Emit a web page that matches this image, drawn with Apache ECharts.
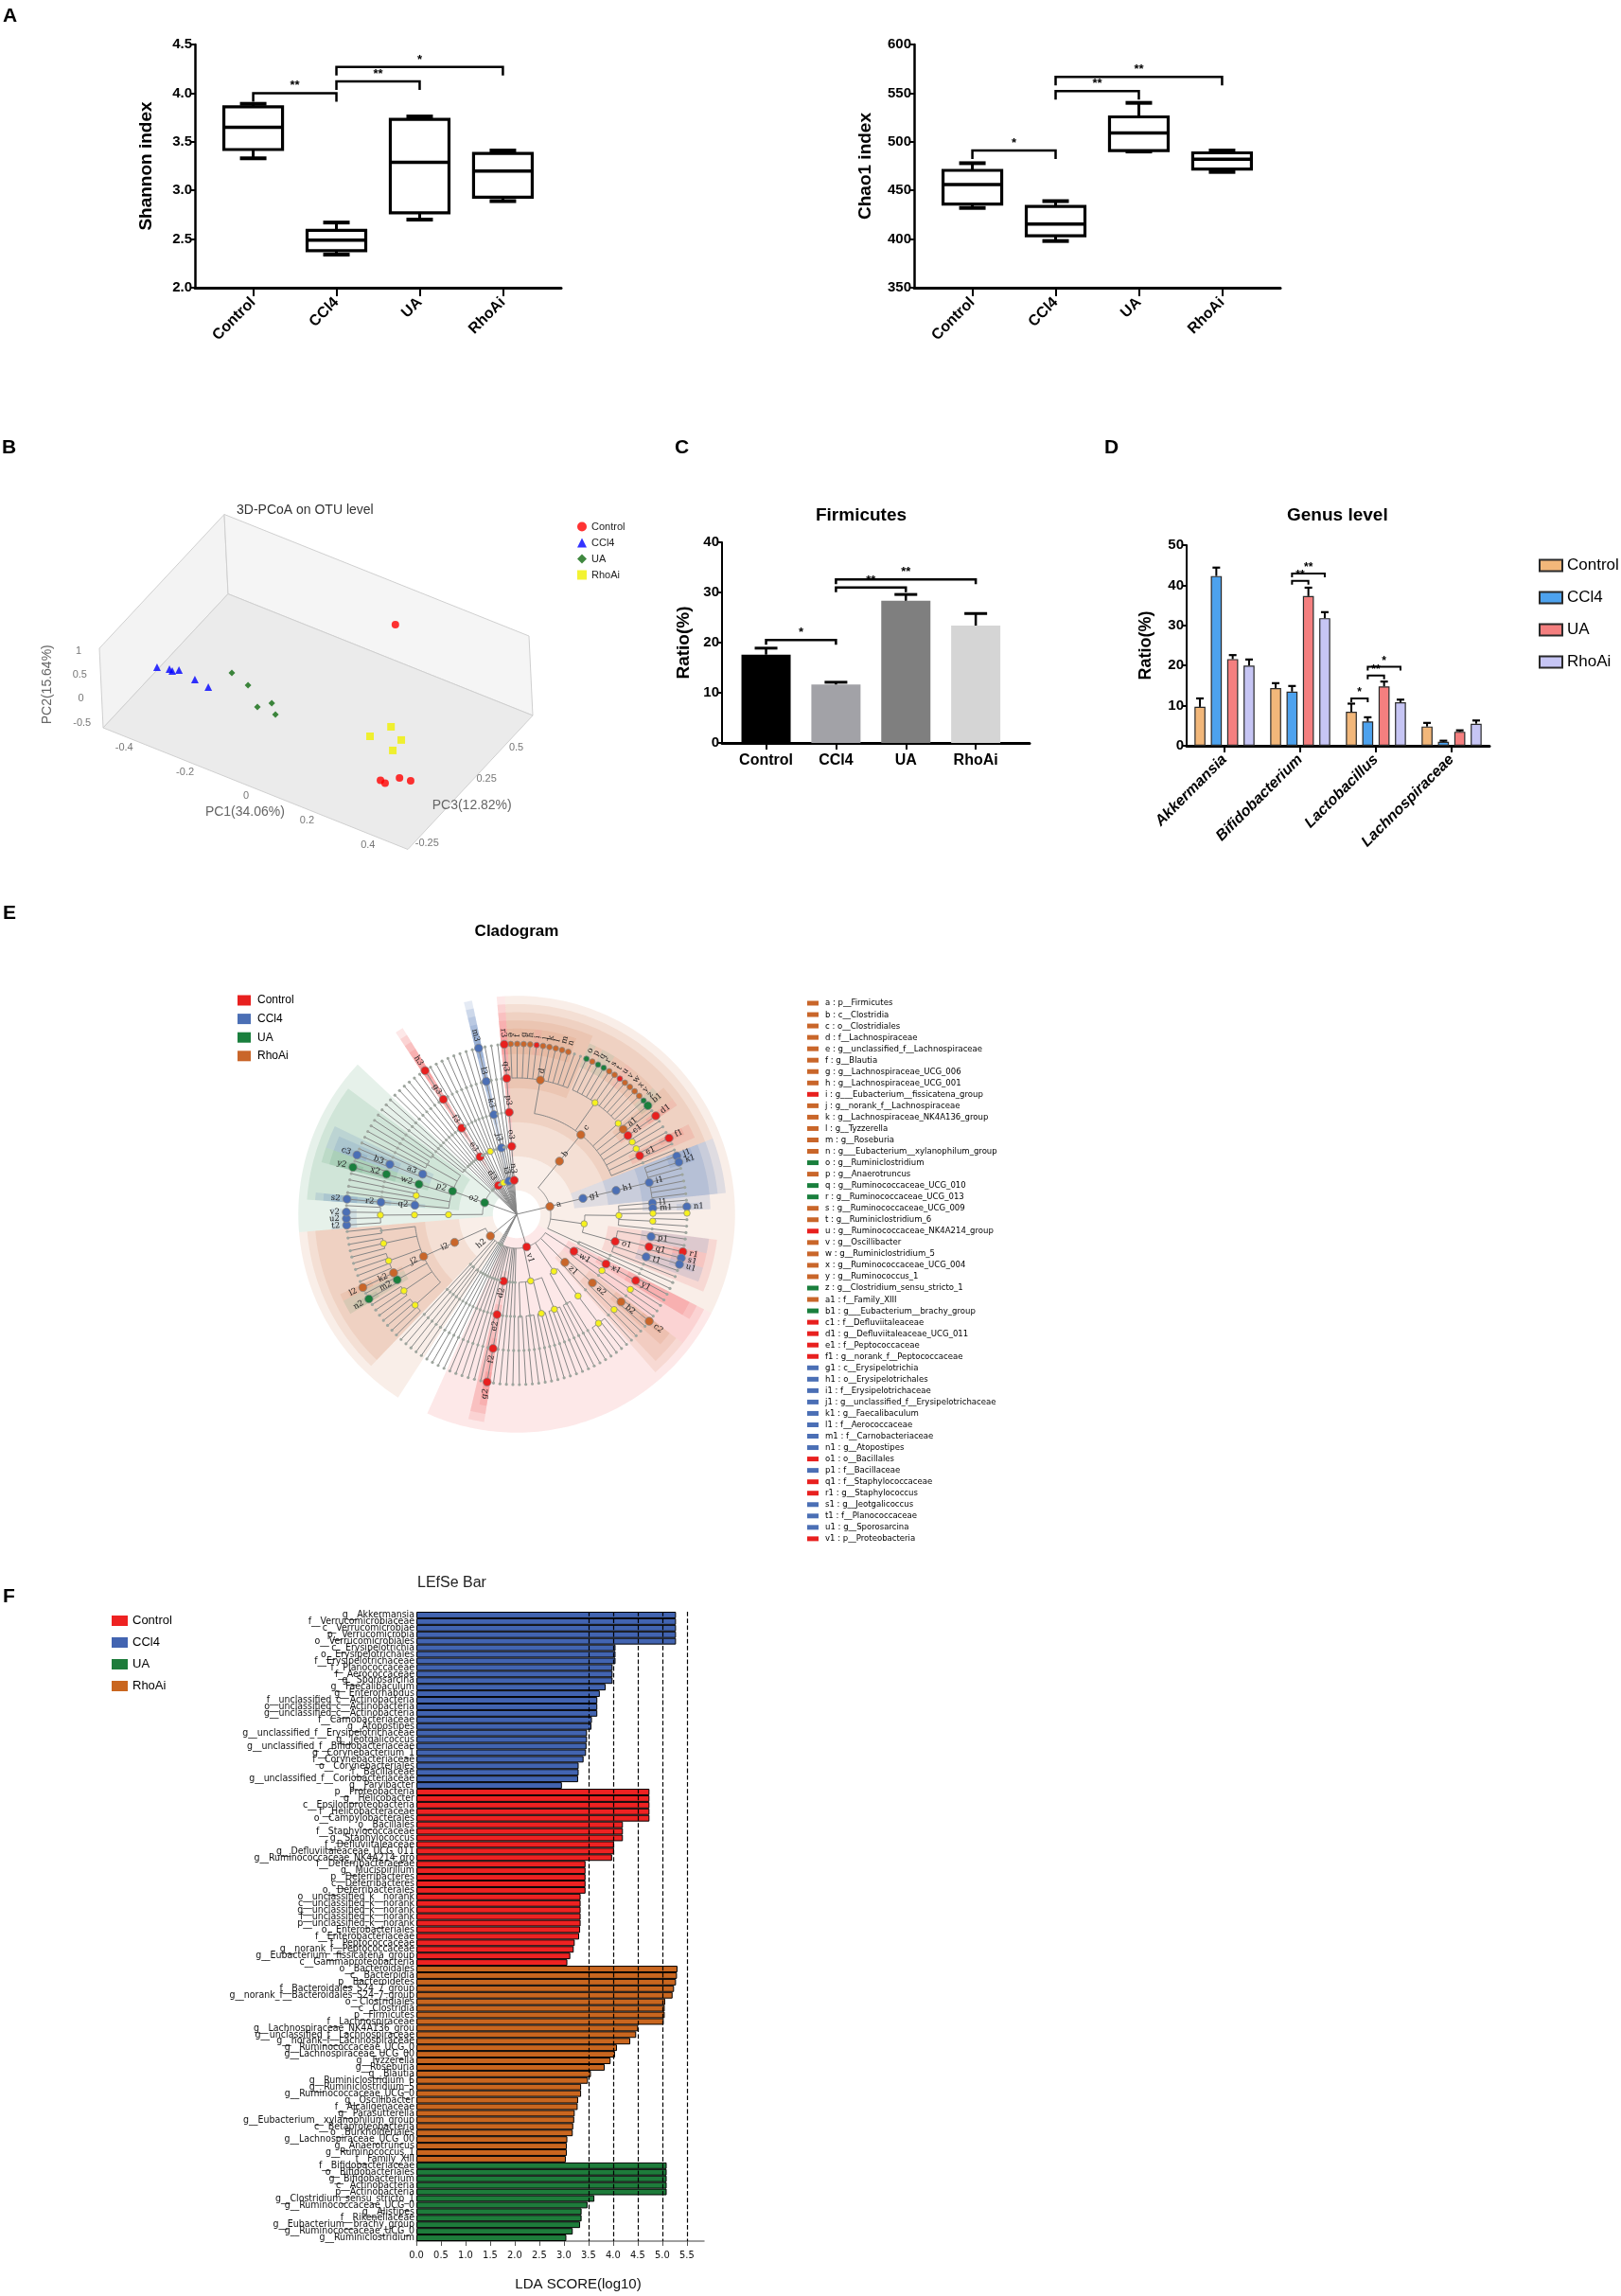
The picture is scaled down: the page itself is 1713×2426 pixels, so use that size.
<!DOCTYPE html>
<html>
<head>
<meta charset="utf-8">
<title>Gut microbiota panels</title>
<script src="https://cdn.jsdelivr.net/npm/echarts@6.0.0/dist/echarts.min.js"></script>
<style>
  html, body { margin: 0; padding: 0; background: #fff; }
  #page { position: relative; width: 1713px; height: 2426px; overflow: hidden; }
  .chart { position: absolute; }
  .tag { position: absolute; font: bold 21px 'Liberation Sans', Arial, sans-serif; color: #000; }
</style>
</head>
<body>
<div id="page">
  <div id="chartShannon" class="chart" style="left:0;top:0;width:640px;height:430px"></div>
  <div id="chartChao" class="chart" style="left:700px;top:0;width:700px;height:430px"></div>
  <div id="chartPcoa" class="chart" style="left:0;top:440px;width:700px;height:520px"></div>
  <div id="chartFirm" class="chart" style="left:700px;top:440px;width:420px;height:480px"></div>
  <div id="chartGenus" class="chart" style="left:1120px;top:440px;width:593px;height:520px"></div>
  <div id="chartClado" class="chart" style="left:0;top:960px;width:1100px;height:690px"></div>
  <div id="chartLefse" class="chart" style="left:0;top:1650px;width:900px;height:776px"></div>
  <div class="tag" style="left:3px;top:4px">A</div>
  <div class="tag" style="left:2px;top:460px">B</div>
  <div class="tag" style="left:713px;top:460px">C</div>
  <div class="tag" style="left:1167px;top:460px">D</div>
  <div class="tag" style="left:3px;top:952px">E</div>
  <div class="tag" style="left:3px;top:1674px">F</div>
</div>
<script>
const groups = ['Control', 'CCl4', 'UA', 'RhoAi']
const sans = "'Liberation Sans', Arial, sans-serif"
const narrow = "'Liberation Sans Narrow', 'DejaVu Sans Condensed', sans-serif"

// A: alpha diversity boxes, [min, Q1, median, Q3, max]
const shannonBox = [
  [3.33, 3.42, 3.65, 3.86, 3.89],
  [2.34, 2.38, 2.49, 2.59, 2.67],
  [2.70, 2.77, 3.29, 3.73, 3.76],
  [2.89, 2.93, 3.20, 3.38, 3.41]
]
const shannonSig = [[0, 1, 4.0, '**'], [1, 2, 4.12, '**'], [1, 3, 4.27, '*']]
const chaoBox = [
  [432, 436, 456, 470.6, 478],
  [398, 403.4, 415.5, 433.5, 439],
  [490, 491, 509, 525.6, 540],
  [469, 472, 482, 488.6, 491]
]
const chaoSig = [[0, 1, 491, '*'], [1, 2, 552, '**'], [1, 3, 566.6, '**']]

// B: 3D PCoA, [PC1, PC2, PC3]
const pcoaControl = [[0.062, 0.225, 0.733], [0.319, -0.26, -0.06], [0.334, -0.28, -0.06], [0.358, -0.27, 0.0], [0.391, -0.27, 0.009]]
const pcoaCCl4 = [[-0.382, 0.5, -0.128], [-0.348, 0.5, -0.111], [-0.337, 0.5, -0.115], [-0.323, 0.5, -0.095], [-0.264, 0.5, -0.112], [-0.215, 0.5, -0.125]]
const pcoaUA = [[-0.213, 0.3, 0.064], [-0.147, 0.3, 0.031], [-0.076, 0.3, -0.072], [-0.05, 0.3, -0.018], [-0.016, 0.3, -0.074]]
const pcoaRhoAi = [[0.254, 0, 0.2], [0.225, 0, 0.098], [0.308, 0, 0.148], [0.311, 0, 0.069]]
const pc1Range = [-0.5, 0.5]
const pc2Range = [-0.6, 1.05]
const pc3Range = [-0.3, 0.75]
const pc1Ticks = [-0.4, -0.2, 0, 0.2, 0.4]
const pc2Ticks = [-0.5, 0, 0.5, 1]
const pc3Ticks = [-0.25, 0.25, 0.5]

// C: Firmicutes
const firmMean = [17.6, 11.65, 28.35, 23.4]
const firmErr = [1.3, 0.45, 1.25, 2.4]
const firmSig = [[0, 1, 20.5, '*'], [1, 2, 31.0, '**'], [1, 3, 32.6, '**']]

// D: genus level
const genera = ['Akkermansia', 'Bifidobacterium', 'Lactobacillus', 'Lachnospiraceae']
const genusControl = [9.7, 14.4, 8.5, 4.8]
const genusControlErr = [2.1, 1.2, 2.0, 0.9]
const genusCCl4 = [42.3, 13.5, 6.05, 1.0]
const genusCCl4Err = [2.1, 1.4, 1.05, 0.26]
const genusUA = [21.6, 37.3, 14.8, 3.5]
const genusUAErr = [1.0, 2.1, 1.2, 0.35]
const genusRhoAi = [20.0, 31.8, 10.85, 5.5]
const genusRhoAiErr = [1.5, 1.5, 0.65, 0.8]
const genusSig = [[1, 1, 2, 41.1, '**'], [1, 1, 3, 42.9, '**'], [2, 0, 1, 11.8, '*'], [2, 1, 2, 17.5, '**'], [2, 1, 3, 19.7, '*']]

// E: cladogram, node = [letter, group, children]; a number stands for unnamed lineages
const cladeTree = [
  ['a', 'R', [
    ['b', 'R', [
      ['c', 'R', [
        ['d', 'R', [['e', 'R'], ['f', 'R'], ['g', 'R'], ['h', 'R'], ['i', 'C'], ['j', 'R'], ['k', 'R'], ['l', 'R'], ['m', 'R'], ['n', 'R'], 2]],
        ['', 'y', [['o', 'U'], ['p', 'R'], ['q', 'U'], ['r', 'U'], ['s', 'R'], ['t', 'R'], ['u', 'C'], ['v', 'R'], ['w', 'R'], ['x', 'R'], ['y', 'R']]],
        ['', 'y', [['z', 'U']]],
        ['a1', 'R', [['b1', 'U'], 1]],
        ['c1', 'C', [['d1', 'C']]],
        ['', 'y', [2]],
        ['', 'y', [1]],
        ['e1', 'C', [['f1', 'C'], 1]],
        ['', '', [1]]
      ]]
    ]],
    ['g1', 'L', [['h1', 'L', [['i1', 'L', [['j1', 'L'], ['k1', 'L'], 5]]]]]],
    ['', 'y', [
      ['', 'y', [['l1', 'L', [1]], ['m1', 'L', [['n1', 'L']]], ['', 'y', [['', 'y']]], ['', 'y', [2]], ['', '', [1]]]],
      ['o1', 'C', [['p1', 'L', [2]], ['q1', 'C', [['r1', 'C'], ['s1', 'L']]], ['t1', 'L', [['u1', 'L'], 1]], ['', '', [1]]]]
    ]],
    ['', '', [2]]
  ]],
  ['v1', 'C', [
    ['w1', 'C', [['x1', 'C', [['y1', 'C', [2]]]], ['', 'y', [['', 'y', [2]]]], ['', '', [1]]]],
    ['z1', 'R', [['a2', 'R', [['b2', 'R', [['c2', 'R'], 1]], ['', 'y', [2]]]], ['', '', [1]]]],
    ['', 'y', [['', 'y', [['', 'y', [4]]]], ['', '', [3]]]],
    ['', 'y', [['', 'y', [4]], ['', 'y', [3]], ['', '', [3]], ['', '', [2]]]],
    4,
    ['d2', 'C', [['e2', 'C', [['f2', 'C', [['g2', 'C']]], ['', '', [1]]]]]],
    5
  ]],
  4,
  ['h2', 'R', [
    ['', '', [2]], ['', '', [2]], ['', '', [1]],
    ['i2', 'R', [['j2', 'R', [
      ['', 'y', [4]], ['', 'y', [3]], ['m2', 'U', [['n2', 'U'], 1]], ['k2', 'R', [['l2', 'R']]], ['', 'y', [4]], ['', 'y', [3]], ['', '', [2]]
    ]]]]
  ]],
  ['o2', 'U', [
    ['', 'y', [['', 'y', [['', 'y', [['t2', 'L'], ['u2', 'L'], ['v2', 'L'], 1]]]]]],
    ['p2', 'U', [
      ['q2', 'L', [['r2', 'L', [['s2', 'L']]]]],
      ['', 'y', [4]],
      ['w2', 'U', [['x2', 'U', [['y2', 'U'], 1]]]],
      ['a3', 'L', [['b3', 'L', [['c3', 'L'], 1]], ['', '', [1]]]],
      ['', '', [3]],
      ['', '', [2]]
    ]],
    ['', '', [3]]
  ]],
  2,
  ['', '', [2]],
  2,
  ['d3', 'C', [['e3', 'C', [['f3', 'C', [['g3', 'C', [['h3', 'C']]]]]]]]],
  3,
  ['', 'y', [['', 'y', [2]]]],
  3,
  ['i3', 'L', [['j3', 'L', [['k3', 'L', [['l3', 'L', [['m3', 'L']]]]]]]]],
  3,
  ['n3', 'C', [['o3', 'C', [['p3', 'C', [['q3', 'C', [['r3', 'C']]]]]]]]]
]
const cladeKeyText = [
  'a : p__Firmicutes', 'b : c__Clostridia', 'c : o__Clostridiales', 'd : f__Lachnospiraceae',
  'e : g__unclassified_f__Lachnospiraceae', 'f : g__Blautia', 'g : g__Lachnospiraceae_UCG_006',
  'h : g__Lachnospiraceae_UCG_001', 'i : g___Eubacterium__fissicatena_group', 'j : g__norank_f__Lachnospiraceae',
  'k : g__Lachnospiraceae_NK4A136_group', 'l : g__Tyzzerella', 'm : g__Roseburia',
  'n : g___Eubacterium__xylanophilum_group', 'o : g__Ruminiclostridium', 'p : g__Anaerotruncus',
  'q : g__Ruminococcaceae_UCG_010', 'r : g__Ruminococcaceae_UCG_013', 's : g__Ruminococcaceae_UCG_009',
  't : g__Ruminiclostridium_6', 'u : g__Ruminococcaceae_NK4A214_group', 'v : g__Oscillibacter',
  'w : g__Ruminiclostridium_5', 'x : g__Ruminococcaceae_UCG_004', 'y : g__Ruminococcus_1',
  'z : g__Clostridium_sensu_stricto_1', 'a1 : f__Family_XIII', 'b1 : g___Eubacterium__brachy_group',
  'c1 : f__Defluviitaleaceae', 'd1 : g__Defluviitaleaceae_UCG_011', 'e1 : f__Peptococcaceae',
  'f1 : g__norank_f__Peptococcaceae', 'g1 : c__Erysipelotrichia', 'h1 : o__Erysipelotrichales',
  'i1 : f__Erysipelotrichaceae', 'j1 : g__unclassified_f__Erysipelotrichaceae', 'k1 : g__Faecalibaculum',
  'l1 : f__Aerococcaceae', 'm1 : f__Carnobacteriaceae', 'n1 : g__Atopostipes', 'o1 : o__Bacillales',
  'p1 : f__Bacillaceae', 'q1 : f__Staphylococcaceae', 'r1 : g__Staphylococcus', 's1 : g__Jeotgalicoccus',
  't1 : f__Planococcaceae', 'u1 : g__Sporosarcina', 'v1 : p__Proteobacteria'
]
const cladeKeyGroup = [
  'R', 'R', 'R', 'R', 'R', 'R', 'R', 'R', 'C', 'R', 'R', 'R', 'R', 'R', 'U', 'R', 'U', 'U', 'R', 'R', 'C', 'R', 'R', 'R', 'R',
  'U', 'R', 'U', 'C', 'C', 'C', 'C', 'L', 'L', 'L', 'L', 'L', 'L', 'L', 'L', 'C', 'L', 'C', 'C', 'L', 'L', 'L', 'C'
]

// F: LEfSe LDA scores
const lefseCCl4Labels = ['g__Akkermansia', 'f__Verrucomicrobiaceae', 'c__Verrucomicrobiae', 'p__Verrucomicrobia', 'o__Verrucomicrobiales', 'c__Erysipelotrichia', 'o__Erysipelotrichales', 'f__Erysipelotrichaceae', 'f__Planococcaceae', 'f__Aerococcaceae', 'g__Sporosarcina', 'g__Faecalibaculum', 'g__Enterorhabdus', 'f__unclassified_c__Actinobacteria', 'o__unclassified_c__Actinobacteria', 'g__unclassified_c__Actinobacteria', 'f__Carnobacteriaceae', 'g__Atopostipes', 'g__unclassified_f__Erysipelotrichaceae', 'g__Jeotgalicoccus', 'g__unclassified_f__Bifidobacteriaceae', 'g__Corynebacterium_1', 'f__Corynebacteriaceae', 'o__Corynebacteriales', 'f__Bacillaceae', 'g__unclassified_f__Coriobacteriaceae', 'g__Parvibacter']
const lefseCCl4Scores = [5.28, 5.28, 5.28, 5.28, 5.28, 4.05, 4.05, 4.05, 3.99, 3.99, 3.99, 3.85, 3.73, 3.68, 3.68, 3.68, 3.57, 3.56, 3.47, 3.47, 3.46, 3.45, 3.40, 3.30, 3.30, 3.29, 2.96]
const lefseControlLabels = ['p__Proteobacteria', 'g__Helicobacter', 'c__Epsilonproteobacteria', 'f__Helicobacteraceae', 'o__Campylobacterales', 'o__Bacillales', 'f__Staphylococcaceae', 'g__Staphylococcus', 'f__Defluviitaleaceae', 'g__Defluviitaleaceae_UCG_011', 'g__Ruminococcaceae_NK4A214_gro', 'f__Deferribacteraceae', 'g__Mucispirillum', 'p__Deferribacteres', 'c__Deferribacteres', 'o__Deferribacterales', 'o__unclassified_k__norank', 'c__unclassified_k__norank', 'g__unclassified_k__norank', 'f__unclassified_k__norank', 'p__unclassified_k__norank', 'o__Enterobacteriales', 'f__Enterobacteriaceae', 'f__Peptococcaceae', 'g__norank_f__Peptococcaceae', 'g__Eubacterium__fissicatena_group', 'c__Gammaproteobacteria']
const lefseControlScores = [4.74, 4.74, 4.74, 4.74, 4.74, 4.20, 4.20, 4.20, 4.02, 4.02, 3.98, 3.44, 3.44, 3.44, 3.44, 3.44, 3.34, 3.34, 3.34, 3.34, 3.34, 3.33, 3.31, 3.22, 3.20, 3.13, 3.07]
const lefseRhoAiLabels = ['o__Bacteroidales', 'c__Bacteroidia', 'p__Bacteroidetes', 'f__Bacteroidales_S24_7_group', 'g__norank_f__Bacteroidales_S24_7_group', 'o__Clostridiales', 'c__Clostridia', 'p__Firmicutes', 'f__Lachnospiraceae', 'g__Lachnospiraceae_NK4A136_grou', 'g__unclassified_f__Lachnospiraceae', 'g__norank_f__Lachnospiraceae', 'g__Ruminococcaceae_UCG_0', 'g__Lachnospiraceae_UCG_00', 'g__Tyzzerella', 'g__Roseburia', 'g__Blautia', 'g__Ruminiclostridium_6', 'g__Ruminiclostridium_5', 'g__Ruminococcaceae_UCG_0', 'g__Oscillibacter', 'f__Alcaligenaceae', 'g__Parasutterella', 'g__Eubacterium__xylanophilum_group', 'c__Betaproteobacteria', 'o__Burkholderiales', 'g__Lachnospiraceae_UCG_00', 'g__Anaerotruncus', 'g__Ruminococcus_1', 'f__Family_XIII']
const lefseRhoAiScores = [5.31, 5.30, 5.28, 5.24, 5.21, 5.06, 5.05, 5.05, 5.03, 4.51, 4.47, 4.35, 4.08, 4.04, 3.95, 3.83, 3.55, 3.49, 3.35, 3.35, 3.29, 3.28, 3.22, 3.21, 3.19, 3.18, 3.07, 3.06, 3.06, 3.04]
const lefseUALabels = ['f__Bifidobacteriaceae', 'o__Bifidobacteriales', 'g__Bifidobacterium', 'c__Actinobacteria', 'p__Actinobacteria', 'g__Clostridium_sensu_stricto_1', 'g__Ruminococcaceae_UCG_0', 'g__Alistipes', 'f__Rikenellaceae', 'g__Eubacterium__brachy_group', 'g__Ruminococcaceae_UCG_0', 'g__Ruminiclostridium']
const lefseUAScores = [5.09, 5.09, 5.09, 5.09, 5.09, 3.62, 3.48, 3.36, 3.36, 3.33, 3.18, 3.05]
const ldaTicks = [0, 0.5, 1, 1.5, 2, 2.5, 3, 3.5, 4, 4.5, 5, 5.5]
const ldaDashed = [3.5, 4, 4.5, 5, 5.5]

const codeColor = { C: '#e8201f', L: '#4b6fb5', U: '#1a7f3d', R: '#c9662a' }
const groupCode = { Control: 'C', CCl4: 'L', UA: 'U', RhoAi: 'R' }

function ln(x1, y1, x2, y2, w, color) {
  return { type: 'line', shape: { x1, y1, x2, y2 }, style: { stroke: color || '#000', lineWidth: w } }
}
function txt(x, y, text, font, align, valign, extra) {
  return Object.assign({
    type: 'text', x, y,
    style: { text, font, fill: '#000', align, textAlign: align, verticalAlign: valign, textVerticalAlign: valign }
  }, extra || {})
}

// bracket with stars, [i, j, y, label]
function bracketRender(sig, drop, lw, font) {
  return function (params, api) {
    const s = sig[params.dataIndex]
    const pa = api.coord([s[0], s[2]])
    const pb = api.coord([s[1], s[2]])
    const y = pa[1]
    return {
      type: 'group', children: [
        { type: 'polyline', shape: { points: [[pa[0], y + drop], [pa[0], y], [pb[0], y], [pb[0], y + drop]] }, style: { stroke: '#000', lineWidth: lw, fill: null } },
        txt((pa[0] + pb[0]) / 2, y - 1, s[3], font, 'center', 'bottom')
      ]
    }
  }
}

// ---------- A ----------
function boxRender(params, api) {
  const x = api.coord([api.value(0), api.value(1)])[0]
  const y = k => api.coord([api.value(0), api.value(k)])[1]
  const yMin = y(1), yQ1 = y(2), yMed = y(3), yQ3 = y(4), yMax = y(5)
  const half = 31, cap = 14
  return {
    type: 'group', children: [
      ln(x, yMax, x, yQ3, 3), ln(x, yQ1, x, yMin, 3),
      ln(x - cap, yMax, x + cap, yMax, 4), ln(x - cap, yMin, x + cap, yMin, 4),
      { type: 'rect', shape: { x: x - half, y: yQ3, width: half * 2, height: yQ1 - yQ3 }, style: { fill: '#fff', stroke: '#000', lineWidth: 3.2 } },
      ln(x - half, yMed, x + half, yMed, 3.5)
    ]
  }
}

function boxChart(id, box, sig, yName, yMin, yMax, yStep, gridLeft, digits) {
  const chart = echarts.init(document.getElementById(id))
  const cats = [0, 1, 2, 3]
  chart.setOption({
    animation: false,
    textStyle: { fontFamily: sans },
    grid: { left: gridLeft, top: 47, width: 387, height: 257 },
    xAxis: {
      type: 'value', min: -0.7, max: 3.7,
      splitLine: { show: false },
      axisLine: { show: true, onZero: false, lineStyle: { color: '#000', width: 3 } },
      axisTick: { show: true, customValues: cats, length: 9, lineStyle: { color: '#000', width: 2 } },
      axisLabel: { customValues: cats, formatter: v => groups[Math.round(v)], rotate: 45, margin: 13, color: '#000', fontSize: 16, fontWeight: 'bold' }
    },
    yAxis: {
      type: 'value', min: yMin, max: yMax, interval: yStep,
      name: yName, nameLocation: 'middle', nameGap: 42,
      nameTextStyle: { fontSize: 19, fontWeight: 'bold', color: '#000' },
      splitLine: { show: false },
      axisLine: { show: true, onZero: false, lineStyle: { color: '#000', width: 2.5 } },
      axisTick: { show: true, length: 5, lineStyle: { color: '#000', width: 2 } },
      axisLabel: { formatter: v => v.toFixed(digits), color: '#000', fontSize: 15, fontWeight: 'bold', margin: 3 }
    },
    series: [
      { type: 'custom', renderItem: boxRender, data: box.map((b, i) => [i].concat(b)), encode: { x: 0, y: [1, 2, 3, 4, 5] } },
      { type: 'custom', renderItem: bracketRender(sig, 9, 2.5, 'bold 13px ' + sans), data: sig.map(s => [s[0], s[2]]), encode: { x: 0, y: 1 } }
    ]
  })
}
boxChart('chartShannon', shannonBox, shannonSig, 'Shannon index', 2, 4.5, 0.5, 206, 1)
boxChart('chartChao', chaoBox, chaoSig, 'Chao1 index', 350, 600, 50, 266, 0)

// ---------- B ----------
function proj(p) {
  const a = (p[0] - pc1Range[0]) / (pc1Range[1] - pc1Range[0])
  const b = (p[1] - pc2Range[0]) / (pc2Range[1] - pc2Range[0])
  const c = (p[2] - pc3Range[0]) / (pc3Range[1] - pc3Range[0])
  return [109 + 322 * a + 132 * c - 4 * b, 769 + 128.5 * a - 141.5 * c - 84 * b]
}
const [x0, x1] = pc1Range
const [y0, y1] = pc2Range
const [z0, z1] = pc3Range
const pcoaFaces = [
  { pts: [[x0, y0, z0], [x0, y0, z1], [x0, y1, z1], [x0, y1, z0]], fill: '#f3f3f3' },
  { pts: [[x0, y0, z1], [x1, y0, z1], [x1, y1, z1], [x0, y1, z1]], fill: '#f5f5f5' },
  { pts: [[x0, y0, z0], [x1, y0, z0], [x1, y0, z1], [x0, y0, z1]], fill: '#ebebeb' }
]
const pcoaText = []
pc1Ticks.forEach(t => pcoaText.push({ p: [t, y0, z0], text: String(t), dx: -10, dy: 8, rot: 0 }))
pc3Ticks.forEach(t => pcoaText.push({ p: [x1, y0, t], text: String(t), dx: 14, dy: 0, rot: 0 }))
pc2Ticks.forEach(t => pcoaText.push({ p: [x0, t, z0], text: String(t), dx: -22, dy: 0, rot: 0 }))
pcoaText.push({ p: [-0.05, y0, z0], text: 'PC1(34.06%)', dx: 5, dy: 31, rot: 0, big: true })
pcoaText.push({ p: [x1, y0, 0], text: 'PC3(12.82%)', dx: 30, dy: -6, rot: 0, big: true })
pcoaText.push({ p: [x0, 0.2, z0], text: 'PC2(15.64%)', dx: -57, dy: -5, rot: Math.PI / 2, big: true })

const pcoaChart = echarts.init(document.getElementById('chartPcoa'))
pcoaChart.setOption({
  animation: false,
  textStyle: { fontFamily: sans },
  title: { text: '3D-PCoA on OTU level', left: 245, top: 87, textStyle: { fontSize: 14, fontWeight: 'normal', color: '#333' } },
  legend: {
    data: groups, orient: 'vertical', left: 605, top: 106, itemWidth: 10, itemHeight: 10, itemGap: 6,
    textStyle: { fontSize: 11, color: '#222' }
  },
  grid: { left: 0, right: 0, top: 0, bottom: 0 },
  xAxis: { type: 'value', min: 0, max: 700, show: false },
  yAxis: { type: 'value', min: 440, max: 960, inverse: true, show: false },
  series: [
    {
      type: 'custom', silent: true, z: 1,
      data: pcoaFaces.map((f, i) => [i, 0]),
      renderItem: (params, api) => {
        const f = pcoaFaces[params.dataIndex]
        return { type: 'polygon', shape: { points: f.pts.map(p => api.coord(proj(p))) }, style: { fill: f.fill, stroke: '#cfcfcf', lineWidth: 1 } }
      }
    },
    {
      type: 'custom', silent: true, z: 2,
      data: pcoaText.map(t => proj(t.p)),
      renderItem: (params, api) => {
        const t = pcoaText[params.dataIndex]
        const p = api.coord([api.value(0), api.value(1)])
        const font = (t.big ? '14px ' : '11px ') + sans
        const el = txt(p[0] + t.dx, p[1] + t.dy, t.text, font, 'center', 'middle', { rotation: t.rot })
        el.style.fill = t.big ? '#666' : '#777'
        return el
      }
    },
    { name: 'Control', type: 'scatter', z: 3, symbol: 'circle', symbolSize: 8, itemStyle: { color: '#ff0000' }, data: pcoaControl.map(proj) },
    { name: 'CCl4', type: 'scatter', z: 3, symbol: 'triangle', symbolSize: 8, itemStyle: { color: '#0000ff' }, data: pcoaCCl4.map(proj) },
    { name: 'UA', type: 'scatter', z: 3, symbol: 'diamond', symbolSize: 7, itemStyle: { color: '#0f6a0f' }, data: pcoaUA.map(proj) },
    { name: 'RhoAi', type: 'scatter', z: 3, symbol: 'rect', symbolSize: 8, itemStyle: { color: '#f0f000' }, data: pcoaRhoAi.map(proj) }
  ]
})

// ---------- C ----------
const firmColors = ['#000000', '#a2a2a7', '#7f7f7f', '#d5d5d5']
const firmChart = echarts.init(document.getElementById('chartFirm'))
firmChart.setOption({
  animation: false,
  textStyle: { fontFamily: sans },
  title: { text: 'Firmicutes', left: 'center', top: 90, textStyle: { fontSize: 19, fontWeight: 'bold', color: '#000' } },
  grid: { left: 63, top: 133, width: 325, height: 212 },
  xAxis: {
    type: 'value', min: -0.63, max: 3.77,
    splitLine: { show: false },
    axisLine: { show: true, onZero: false, lineStyle: { color: '#000', width: 3 } },
    axisTick: { show: true, customValues: [0, 1, 2, 3], length: 7, lineStyle: { color: '#000', width: 2 } },
    axisLabel: { customValues: [0, 1, 2, 3], formatter: v => groups[Math.round(v)], margin: 11, color: '#000', fontSize: 16, fontWeight: 'bold' }
  },
  yAxis: {
    type: 'value', min: 0, max: 40, interval: 10,
    name: 'Ratio(%)', nameLocation: 'middle', nameGap: 30,
    nameTextStyle: { fontSize: 19, fontWeight: 'bold', color: '#000' },
    splitLine: { show: false },
    axisLine: { show: true, onZero: false, lineStyle: { color: '#000', width: 2 } },
    axisTick: { show: true, length: 5, lineStyle: { color: '#000', width: 2 } },
    axisLabel: { color: '#000', fontSize: 15, fontWeight: 'bold', margin: 3 }
  },
  series: [
    {
      type: 'bar', barWidth: 52,
      data: firmMean.map((v, i) => ({ value: [i, v], itemStyle: { color: firmColors[i] } }))
    },
    {
      type: 'custom', z: 3,
      data: firmMean.map((v, i) => [i, v + firmErr[i]]),
      renderItem: (params, api) => {
        const i = params.dataIndex
        const top = api.coord([i, firmMean[i] + firmErr[i]])
        const base = api.coord([i, firmMean[i]])
        return { type: 'group', children: [ln(top[0], base[1], top[0], top[1], 2.5), ln(top[0] - 12, top[1], top[0] + 12, top[1], 3)] }
      }
    },
    {
      type: 'custom', z: 3,
      data: firmSig.map(s => [s[0], s[2]]),
      renderItem: bracketRender(firmSig, 5, 2.5, 'bold 13px ' + sans)
    }
  ]
})

// ---------- D ----------
const genusColors = ['#f2b77a', '#4da2ee', '#f47f7f', '#c6c5f4']
const genusVals = [genusControl, genusCCl4, genusUA, genusRhoAi]
const genusErrs = [genusControlErr, genusCCl4Err, genusUAErr, genusRhoAiErr]
const barPitch = 17.3
const genusErrItems = []
genusVals.forEach((vals, k) => vals.forEach((v, c) => genusErrItems.push([c, v + genusErrs[k][c], k, v])))
const genusChart = echarts.init(document.getElementById('chartGenus'))
genusChart.setOption({
  animation: false,
  textStyle: { fontFamily: sans },
  title: { text: 'Genus level', left: 235, top: 90, textStyle: { fontSize: 19, fontWeight: 'bold', color: '#000' } },
  legend: {
    data: groups, orient: 'vertical', left: 501, top: 144, icon: 'rect',
    itemWidth: 24, itemHeight: 12, itemGap: 17,
    textStyle: { fontSize: 17, color: '#000' }
  },
  grid: { left: 134, top: 136, width: 320, height: 212 },
  xAxis: {
    type: 'category', data: genera,
    axisLine: { show: true, lineStyle: { color: '#000', width: 3 } },
    axisTick: { show: true, alignWithLabel: true, length: 7, lineStyle: { color: '#000', width: 2 } },
    axisLabel: { rotate: 45, margin: 12, color: '#000', fontSize: 16, fontWeight: 'bold', fontStyle: 'italic' }
  },
  yAxis: {
    type: 'value', min: 0, max: 50, interval: 10,
    name: 'Ratio(%)', nameLocation: 'middle', nameGap: 34,
    nameTextStyle: { fontSize: 18, fontWeight: 'bold', color: '#000' },
    splitLine: { show: false },
    axisLine: { show: true, lineStyle: { color: '#000', width: 2 } },
    axisTick: { show: true, length: 5, lineStyle: { color: '#000', width: 2 } },
    axisLabel: { color: '#000', fontSize: 15, fontWeight: 'bold', margin: 3 }
  },
  series: genusVals.map((vals, k) => ({
    name: groups[k], type: 'bar', barWidth: 11.6, barGap: '49%',
    itemStyle: { color: genusColors[k], borderColor: '#2a2a2a', borderWidth: 1.2 },
    data: vals
  })).concat([
    {
      type: 'custom', z: 3, data: genusErrItems.map(e => [e[0], e[1]]),
      renderItem: (params, api) => {
        const e = genusErrItems[params.dataIndex]
        const cx = api.coord([e[0], 0])[0] + (e[2] - 1.5) * barPitch
        const yTop = api.coord([e[0], e[1]])[1]
        const yBase = api.coord([e[0], e[3]])[1]
        return { type: 'group', children: [ln(cx, yBase, cx, yTop, 2), ln(cx - 4, yTop, cx + 4, yTop, 2.2)] }
      }
    },
    {
      type: 'custom', z: 3, data: genusSig.map(s => [s[0], s[3]]),
      renderItem: (params, api) => {
        const s = genusSig[params.dataIndex]
        const cx = api.coord([s[0], 0])[0]
        const y = api.coord([s[0], s[3]])[1]
        const xa = cx + (s[1] - 1.5) * barPitch
        const xb = cx + (s[2] - 1.5) * barPitch
        return {
          type: 'group', children: [
            { type: 'polyline', shape: { points: [[xa, y + 4], [xa, y], [xb, y], [xb, y + 4]] }, style: { stroke: '#000', lineWidth: 2, fill: null } },
            txt((xa + xb) / 2, y, s[4], 'bold 12px ' + sans, 'center', 'bottom')
          ]
        }
      }
    }
  ])
})

// ---------- E ----------
function anonClade(depth) {
  return { label: '', code: '', depth, kids: depth < 5 ? [anonClade(depth + 1)] : [] }
}
function buildClade(item, depth) {
  const kids = []
  const list = item[2] || []
  list.forEach(c => {
    if (typeof c === 'number') { for (let k = 0; k < c; k++) kids.push(anonClade(depth + 1)) }
    else kids.push(buildClade(c, depth + 1))
  })
  if (!kids.length && depth < 5) kids.push(anonClade(depth + 1))
  return { label: item[0], code: item[1], depth, kids }
}
const cladeRoot = buildClade(['', '', cladeTree], 0)
const cladeLeaves = []
const cladeNodes = []
function collectClade(n) {
  if (n.depth > 0) cladeNodes.push(n)
  if (!n.kids.length) cladeLeaves.push(n)
  n.kids.forEach(collectClade)
}
collectClade(cladeRoot)
const leafStep = 360 / cladeLeaves.length
cladeLeaves.forEach((n, i) => { n.angle = 92 - i * leafStep })
function placeClade(n) {
  if (n.kids.length) {
    n.kids.forEach(placeClade)
    n.hi = n.kids[0].hi
    n.lo = n.kids[n.kids.length - 1].lo
    n.angle = (n.kids[0].angle + n.kids[n.kids.length - 1].angle) / 2
  } else {
    n.hi = n.angle
    n.lo = n.angle
  }
}
placeClade(cladeRoot)
const cladeMarked = cladeNodes.filter(n => codeColor[n.code]).sort((a, b) => a.depth - b.depth)
const cladeLabelled = cladeNodes.filter(n => n.label)
const shadeColor = { C: 'rgba(232,32,31,0.10)', L: 'rgba(75,111,181,0.15)', U: 'rgba(26,127,61,0.11)', R: 'rgba(201,102,42,0.11)' }
const norm = a => ((a % 360) + 360) % 360
function arcPoints(api, r, a0, a1) {
  const seg = Math.max(2, Math.ceil(Math.abs(a0 - a1)))
  const pts = []
  for (let s = 0; s <= seg; s++) pts.push(api.coord([r, norm(a0 + (a1 - a0) * s / seg)]))
  return pts
}

const cladeGraphic = [
  txt(546, 24, 'Cladogram', 'bold 17px ' + sans, 'center', 'middle')
]
groups.forEach((g, i) => {
  cladeGraphic.push({ type: 'rect', x: 251, y: 91.5 + i * 19.6, shape: { x: 0, y: 0, width: 14, height: 11 }, style: { fill: codeColor[groupCode[g]] } })
  cladeGraphic.push(txt(272, 97 + i * 19.6, g, '12px ' + sans, 'left', 'middle'))
})
cladeKeyText.forEach((t, i) => {
  const y = 100 + i * 12.04
  cladeGraphic.push({ type: 'rect', x: 853, y: y - 2.5, shape: { x: 0, y: 0, width: 12, height: 5 }, style: { fill: codeColor[cladeKeyGroup[i]] } })
  cladeGraphic.push(txt(872, y, t, '9.5px ' + narrow, 'left', 'middle'))
})

const cladeChart = echarts.init(document.getElementById('chartClado'))
cladeChart.setOption({
  animation: false,
  polar: { center: [546, 323], radius: 234 },
  radiusAxis: { type: 'value', min: 0, max: 6.5, show: false },
  angleAxis: { type: 'value', min: 0, max: 360, startAngle: 0, clockwise: false, show: false },
  graphic: cladeGraphic,
  series: [
    {
      type: 'custom', coordinateSystem: 'polar', silent: true, z: 1,
      data: cladeMarked.map(n => [n.depth, norm(n.angle)]),
      renderItem: (params, api) => {
        const n = cladeMarked[params.dataIndex]
        const r0 = n.depth - 0.3
        const r1 = 5.45 + 0.24 * (5 - n.depth)
        const a0 = n.hi + leafStep / 2
        const a1 = n.lo - leafStep / 2
        const pts = arcPoints(api, r1, a0, a1).concat(arcPoints(api, r0, a1, a0))
        return { type: 'polygon', shape: { points: pts }, style: { fill: shadeColor[n.code], stroke: null } }
      }
    },
    {
      type: 'custom', coordinateSystem: 'polar', silent: true, z: 2,
      data: cladeNodes.map(n => [n.depth, norm(n.angle)]),
      renderItem: (params, api) => {
        const n = cladeNodes[params.dataIndex]
        const p0 = api.coord([n.depth - 1, norm(n.angle)])
        const p1 = api.coord([n.depth, norm(n.angle)])
        const children = [ln(p0[0], p0[1], p1[0], p1[1], 1, '#858585')]
        if (n.kids.length > 1) {
          children.push({
            type: 'polyline',
            shape: { points: arcPoints(api, n.depth, n.kids[0].angle, n.kids[n.kids.length - 1].angle) },
            style: { stroke: '#858585', lineWidth: 1, fill: null }
          })
        }
        return { type: 'group', children }
      }
    },
    {
      type: 'custom', coordinateSystem: 'polar', silent: true, z: 3,
      data: cladeNodes.map(n => [n.depth, norm(n.angle)]),
      renderItem: (params, api) => {
        const n = cladeNodes[params.dataIndex]
        const p = api.coord([n.depth, norm(n.angle)])
        let r = 1.6, fill = '#9ea59e', stroke = null
        if (codeColor[n.code]) { r = n.depth === 5 && n.label.length === 1 ? 3 : 4.3; fill = codeColor[n.code]; stroke = '#8a8a8a' }
        else if (n.code === 'y') { r = 3.3; fill = '#f7f21c'; stroke = '#8a8a8a' }
        return { type: 'circle', shape: { cx: p[0], cy: p[1], r }, style: { fill, stroke, lineWidth: 0.8 } }
      }
    },
    {
      type: 'custom', coordinateSystem: 'polar', silent: true, z: 4,
      data: cladeLabelled.map(n => [n.depth, norm(n.angle)]),
      renderItem: (params, api) => {
        const n = cladeLabelled[params.dataIndex]
        const a = norm(n.angle)
        const p = api.coord([n.depth + 0.2, a])
        const rad = a * Math.PI / 180
        const right = Math.cos(rad) >= 0
        const el = txt(p[0], p[1], n.label, '8.5px "DejaVu Serif", serif', right ? 'left' : 'right', 'middle', { rotation: right ? rad : rad - Math.PI })
        el.style.fill = '#222'
        return el
      }
    }
  ]
})

// ---------- F ----------
const lefseLabels = lefseCCl4Labels.concat(lefseControlLabels, lefseRhoAiLabels, lefseUALabels)
const lefseBlocks = [
  { name: 'CCl4', scores: lefseCCl4Scores, color: '#4264b1' },
  { name: 'Control', scores: lefseControlScores, color: '#ee2222' },
  { name: 'RhoAi', scores: lefseRhoAiScores, color: '#c9661f' },
  { name: 'UA', scores: lefseUAScores, color: '#1e7c3b' }
]
let lefseStart = 0
const lefseSeries = lefseBlocks.map((b, k) => {
  const data = lefseLabels.map(() => '-')
  b.scores.forEach((v, i) => { data[lefseStart + i] = v })
  lefseStart += b.scores.length
  const s = {
    name: b.name, type: 'bar', barWidth: '100%', barGap: '-100%', barCategoryGap: 0,
    itemStyle: { color: b.color, borderColor: '#000', borderWidth: 1 },
    data
  }
  if (k === 0) {
    s.markLine = {
      silent: true, symbol: 'none', label: { show: false },
      lineStyle: { type: 'dashed', color: '#000', width: 1.2 },
      data: ldaDashed.map(v => ({ xAxis: v }))
    }
  }
  return s
})
const lefseChart = echarts.init(document.getElementById('chartLefse'))
lefseChart.setOption({
  animation: false,
  textStyle: { fontFamily: sans },
  title: { text: 'LEfSe Bar', left: 436, top: 10, textStyle: { fontSize: 16, fontWeight: 'normal', color: '#222' } },
  legend: {
    data: ['Control', 'CCl4', 'UA', 'RhoAi'], orient: 'vertical', left: 113, top: 51, icon: 'rect',
    itemWidth: 17, itemHeight: 11, itemGap: 10, itemStyle: { borderWidth: 0 },
    textStyle: { fontSize: 13, color: '#000' }
  },
  grid: { left: 440, top: 53, width: 304, height: 667 },
  xAxis: {
    type: 'value', min: 0, max: 5.85,
    name: 'LDA SCORE(log10)', nameLocation: 'middle', nameGap: 38,
    nameTextStyle: { fontSize: 15, color: '#111', padding: [0, 0, 0, 38] },
    splitLine: { show: false },
    axisLine: { show: true, onZero: false, lineStyle: { color: '#808080', width: 1.5 } },
    axisTick: { show: true, customValues: ldaTicks, length: 5, lineStyle: { color: '#555' } },
    axisLabel: { customValues: ldaTicks, formatter: v => v.toFixed(1), fontSize: 11, fontFamily: narrow, color: '#111', margin: 10 }
  },
  yAxis: {
    type: 'category', inverse: true,
    data: lefseLabels.map((_, i) => String(i)),
    axisLine: { show: false }, axisTick: { show: false },
    axisLabel: { interval: 0, formatter: (v, i) => lefseLabels[i], fontSize: 10.5, fontFamily: narrow, color: '#111', margin: 2 }
  },
  series: lefseSeries
})
</script>
</body>
</html>
